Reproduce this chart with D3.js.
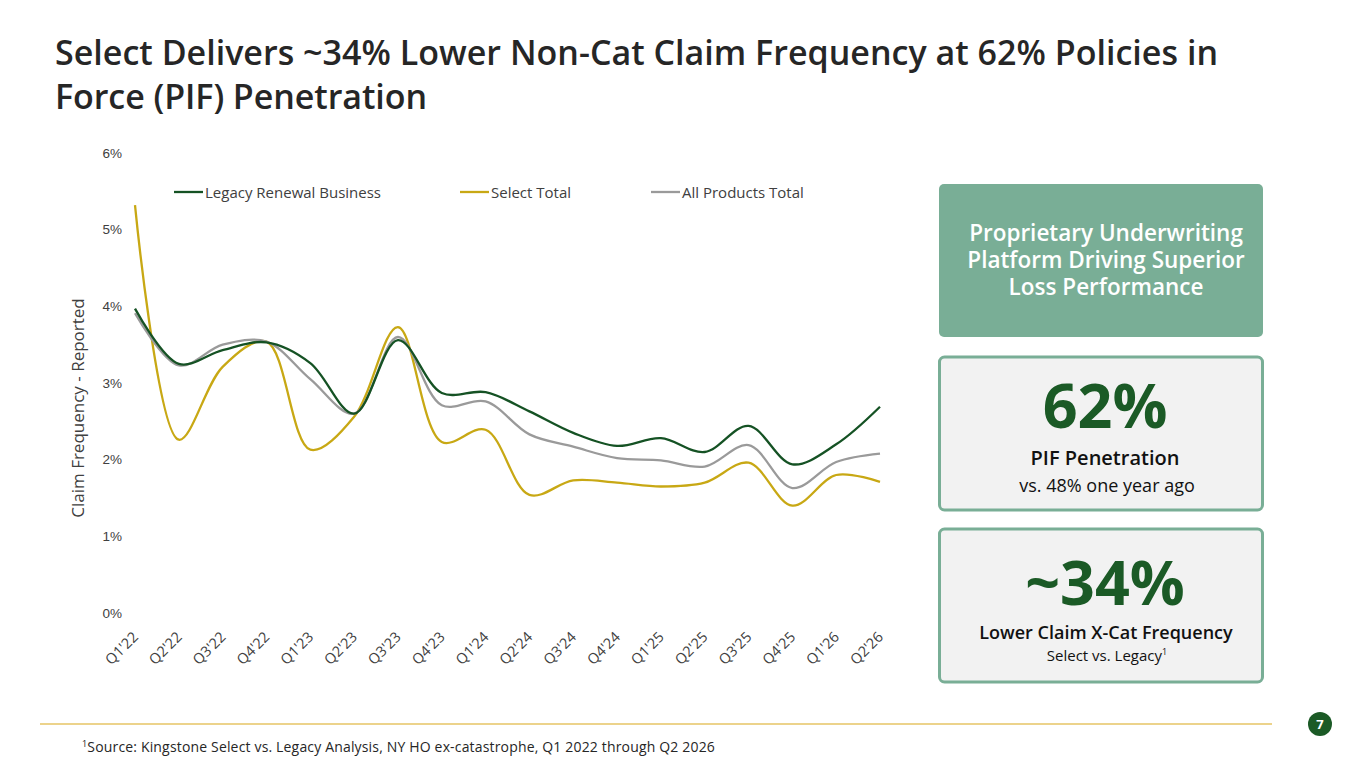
<!DOCTYPE html>
<html>
<head>
<meta charset="utf-8">
<script src="https://cdn.jsdelivr.net/npm/d3@7"></script>
<style>
  html, body { margin: 0; padding: 0; background: #fff; }
  svg { display: block; font-family: "Open Sans", sans-serif; }
</style>
</head>
<body>
<svg id="slide" width="1365" height="768"></svg>
<script>
const QUARTERS = ["Q1'22", "Q2'22", "Q3'22", "Q4'22", "Q1'23", "Q2'23", "Q3'23", "Q4'23", "Q1'24",
  "Q2'24", "Q3'24", "Q4'24", "Q1'25", "Q2'25", "Q3'25", "Q4'25", "Q1'26", "Q2'26"];
const LEGACY = [3.97, 3.25, 3.43, 3.53, 3.26, 2.60, 3.56, 2.87, 2.88, 2.63, 2.35, 2.18, 2.28, 2.10, 2.44, 1.94, 2.20, 2.69];
const SELECT = [5.32, 2.26, 3.21, 3.54, 2.13, 2.56, 3.73, 2.23, 2.39, 1.54, 1.73, 1.70, 1.65, 1.70, 1.96, 1.40, 1.80, 1.71];
const ALL_PRODUCTS = [3.91, 3.23, 3.50, 3.54, 3.05, 2.60, 3.60, 2.71, 2.76, 2.33, 2.17, 2.02, 1.99, 1.91, 2.19, 1.63, 1.97, 2.08];
const Y_TICKS = [0, 1, 2, 3, 4, 5, 6];

const SERIES = [
  { name: "Legacy Renewal Business", values: LEGACY, color: "#155224" },
  { name: "Select Total", values: SELECT, color: "#c8a814" },
  { name: "All Products Total", values: ALL_PRODUCTS, color: "#9a9a9a" },
];

const d3 = window.d3;
const svg = d3.select("#slide");
const GREEN = "#1b5a26";
const SAGE = "#79ae96";

// titulo
const title = svg.append("g").attr("fill", "#262626").attr("font-weight", 600).attr("font-size", 34);
fitText(title.append("text").attr("x", 55).attr("y", 65)
  .text("Select Delivers ~34% Lower Non-Cat Claim Frequency at 62% Policies in"), 1163);
fitText(title.append("text").attr("x", 55).attr("y", 109)
  .text("Force (PIF) Penetration"), 372);

// escalas do grafico
const x = d3.scalePoint().domain(QUARTERS).range([135, 880]);
const y = d3.scaleLinear().domain([0, 6]).range([613, 153]);

svg.append("g")
  .attr("transform", "translate(135,0)")
  .call(d3.axisLeft(y).tickValues(Y_TICKS).tickSize(0).tickPadding(13).tickFormat((d) => d + "%"))
  .call((g) => g.select(".domain").remove())
  .call((g) => g.selectAll("text")
    .attr("fill", "#404040")
    .attr("font-family", "'Liberation Sans', Arial, sans-serif")
    .attr("font-size", 13.5));

svg.append("g")
  .selectAll("text")
  .data(QUARTERS)
  .join("text")
  .attr("transform", (d) => `translate(${x(d) + 4},${638}) rotate(-45)`)
  .attr("text-anchor", "end")
  .attr("fill", "#404040")
  .attr("font-size", 14.5)
  .text((d) => d);

svg.append("text")
  .attr("transform", "translate(84,408) rotate(-90)")
  .attr("text-anchor", "middle")
  .attr("fill", "#404040")
  .attr("font-size", 17)
  .text("Claim Frequency - Reported");

// linhas suavizadas como no excel
const line = d3.line()
  .x((_d, i) => x(QUARTERS[i]))
  .y((d) => y(d))
  .curve(d3.curveCatmullRom);

svg.append("g")
  .selectAll("path")
  .data([SERIES[1], SERIES[2], SERIES[0]])
  .join("path")
  .attr("fill", "none")
  .attr("stroke", (d) => d.color)
  .attr("stroke-width", 2.3)
  .attr("d", (d) => line(d.values));

// legenda
const LEGEND_X = [174, 460, 651];
const legend = svg.append("g")
  .selectAll("g")
  .data(SERIES)
  .join("g")
  .attr("transform", (_d, i) => `translate(${LEGEND_X[i]},192)`);
legend.append("line").attr("x1", 0).attr("x2", 29).attr("stroke", (d) => d.color).attr("stroke-width", 2.3);
legend.append("text").attr("x", 31).attr("y", 5.5).attr("fill", "#404040").attr("font-size", 15).text((d) => d.name);

// caixas da direita
const boxes = svg.append("g");
boxes.append("rect").attr("x", 939).attr("y", 184).attr("width", 324).attr("height", 153).attr("rx", 5).attr("fill", SAGE);
const headline = boxes.append("text").attr("y", 241).attr("text-anchor", "middle")
  .attr("fill", "#fff").attr("font-size", 22.5).attr("font-weight", 600);
["Proprietary Underwriting", "Platform Driving Superior", "Loss Performance"].forEach((t, i) => {
  headline.append("tspan").attr("x", 1106).attr("dy", i ? 27 : 0).text(t);
});

[357, 529].forEach((top) => {
  boxes.append("rect").attr("x", 939.5).attr("y", top).attr("width", 323).attr("height", 153).attr("rx", 5)
    .attr("fill", "#f2f2f2").attr("stroke", SAGE).attr("stroke-width", 3);
});

const cx = 1101;
boxes.append("text").attr("x", cx + 4).attr("y", 428).attr("text-anchor", "middle")
  .attr("fill", GREEN).attr("font-size", 61).attr("font-weight", 700).text("62%");
boxes.append("text").attr("x", cx + 4).attr("y", 465).attr("text-anchor", "middle")
  .attr("fill", "#111").attr("font-size", 20).attr("font-weight", 600).text("PIF Penetration");
boxes.append("text").attr("x", cx + 6).attr("y", 492).attr("text-anchor", "middle")
  .attr("fill", "#111").attr("font-size", 18).text("vs. 48% one year ago");

boxes.append("text").attr("x", cx + 4).attr("y", 605).attr("text-anchor", "middle")
  .attr("fill", GREEN).attr("font-size", 61).attr("font-weight", 700).text("~34%");
boxes.append("text").attr("x", cx + 5).attr("y", 639).attr("text-anchor", "middle")
  .attr("fill", "#111").attr("font-size", 18).attr("font-weight", 600).text("Lower Claim X-Cat Frequency");
const sub = boxes.append("text").attr("x", cx + 6).attr("y", 661).attr("text-anchor", "middle")
  .attr("fill", "#111").attr("font-size", 15);
sub.append("tspan").text("Select vs. Legacy");
sub.append("tspan").attr("dy", -6).attr("font-size", 9).text("1");

// rodape
svg.append("line").attr("x1", 40).attr("x2", 1272).attr("y1", 724).attr("y2", 724)
  .attr("stroke", "#e6c465").attr("stroke-width", 1.5);
svg.append("circle").attr("cx", 1320).attr("cy", 724).attr("r", 12).attr("fill", GREEN);
svg.append("text").attr("x", 1320).attr("y", 729).attr("text-anchor", "middle")
  .attr("fill", "#fff").attr("font-size", 13).attr("font-weight", 700).text("7");

const foot = svg.append("text").attr("x", 82).attr("y", 752).attr("fill", "#262626").attr("font-size", 14);
foot.append("tspan").attr("font-size", 9).attr("dy", -5).text("1");
foot.append("tspan").attr("dy", 5).text("Source: Kingstone Select vs. Legacy Analysis, NY HO ex-catastrophe, Q1 2022 through Q2 2026");
fitText(foot, 633);

function fitText(sel, target) {
  // ajusta o espacamento das letras para caber na largura
  const node = sel.node();
  const n = node.textContent.length;
  const w = node.getComputedTextLength();
  sel.attr("letter-spacing", ((target - w) / n).toFixed(3));
}
</script>
</body>
</html>
